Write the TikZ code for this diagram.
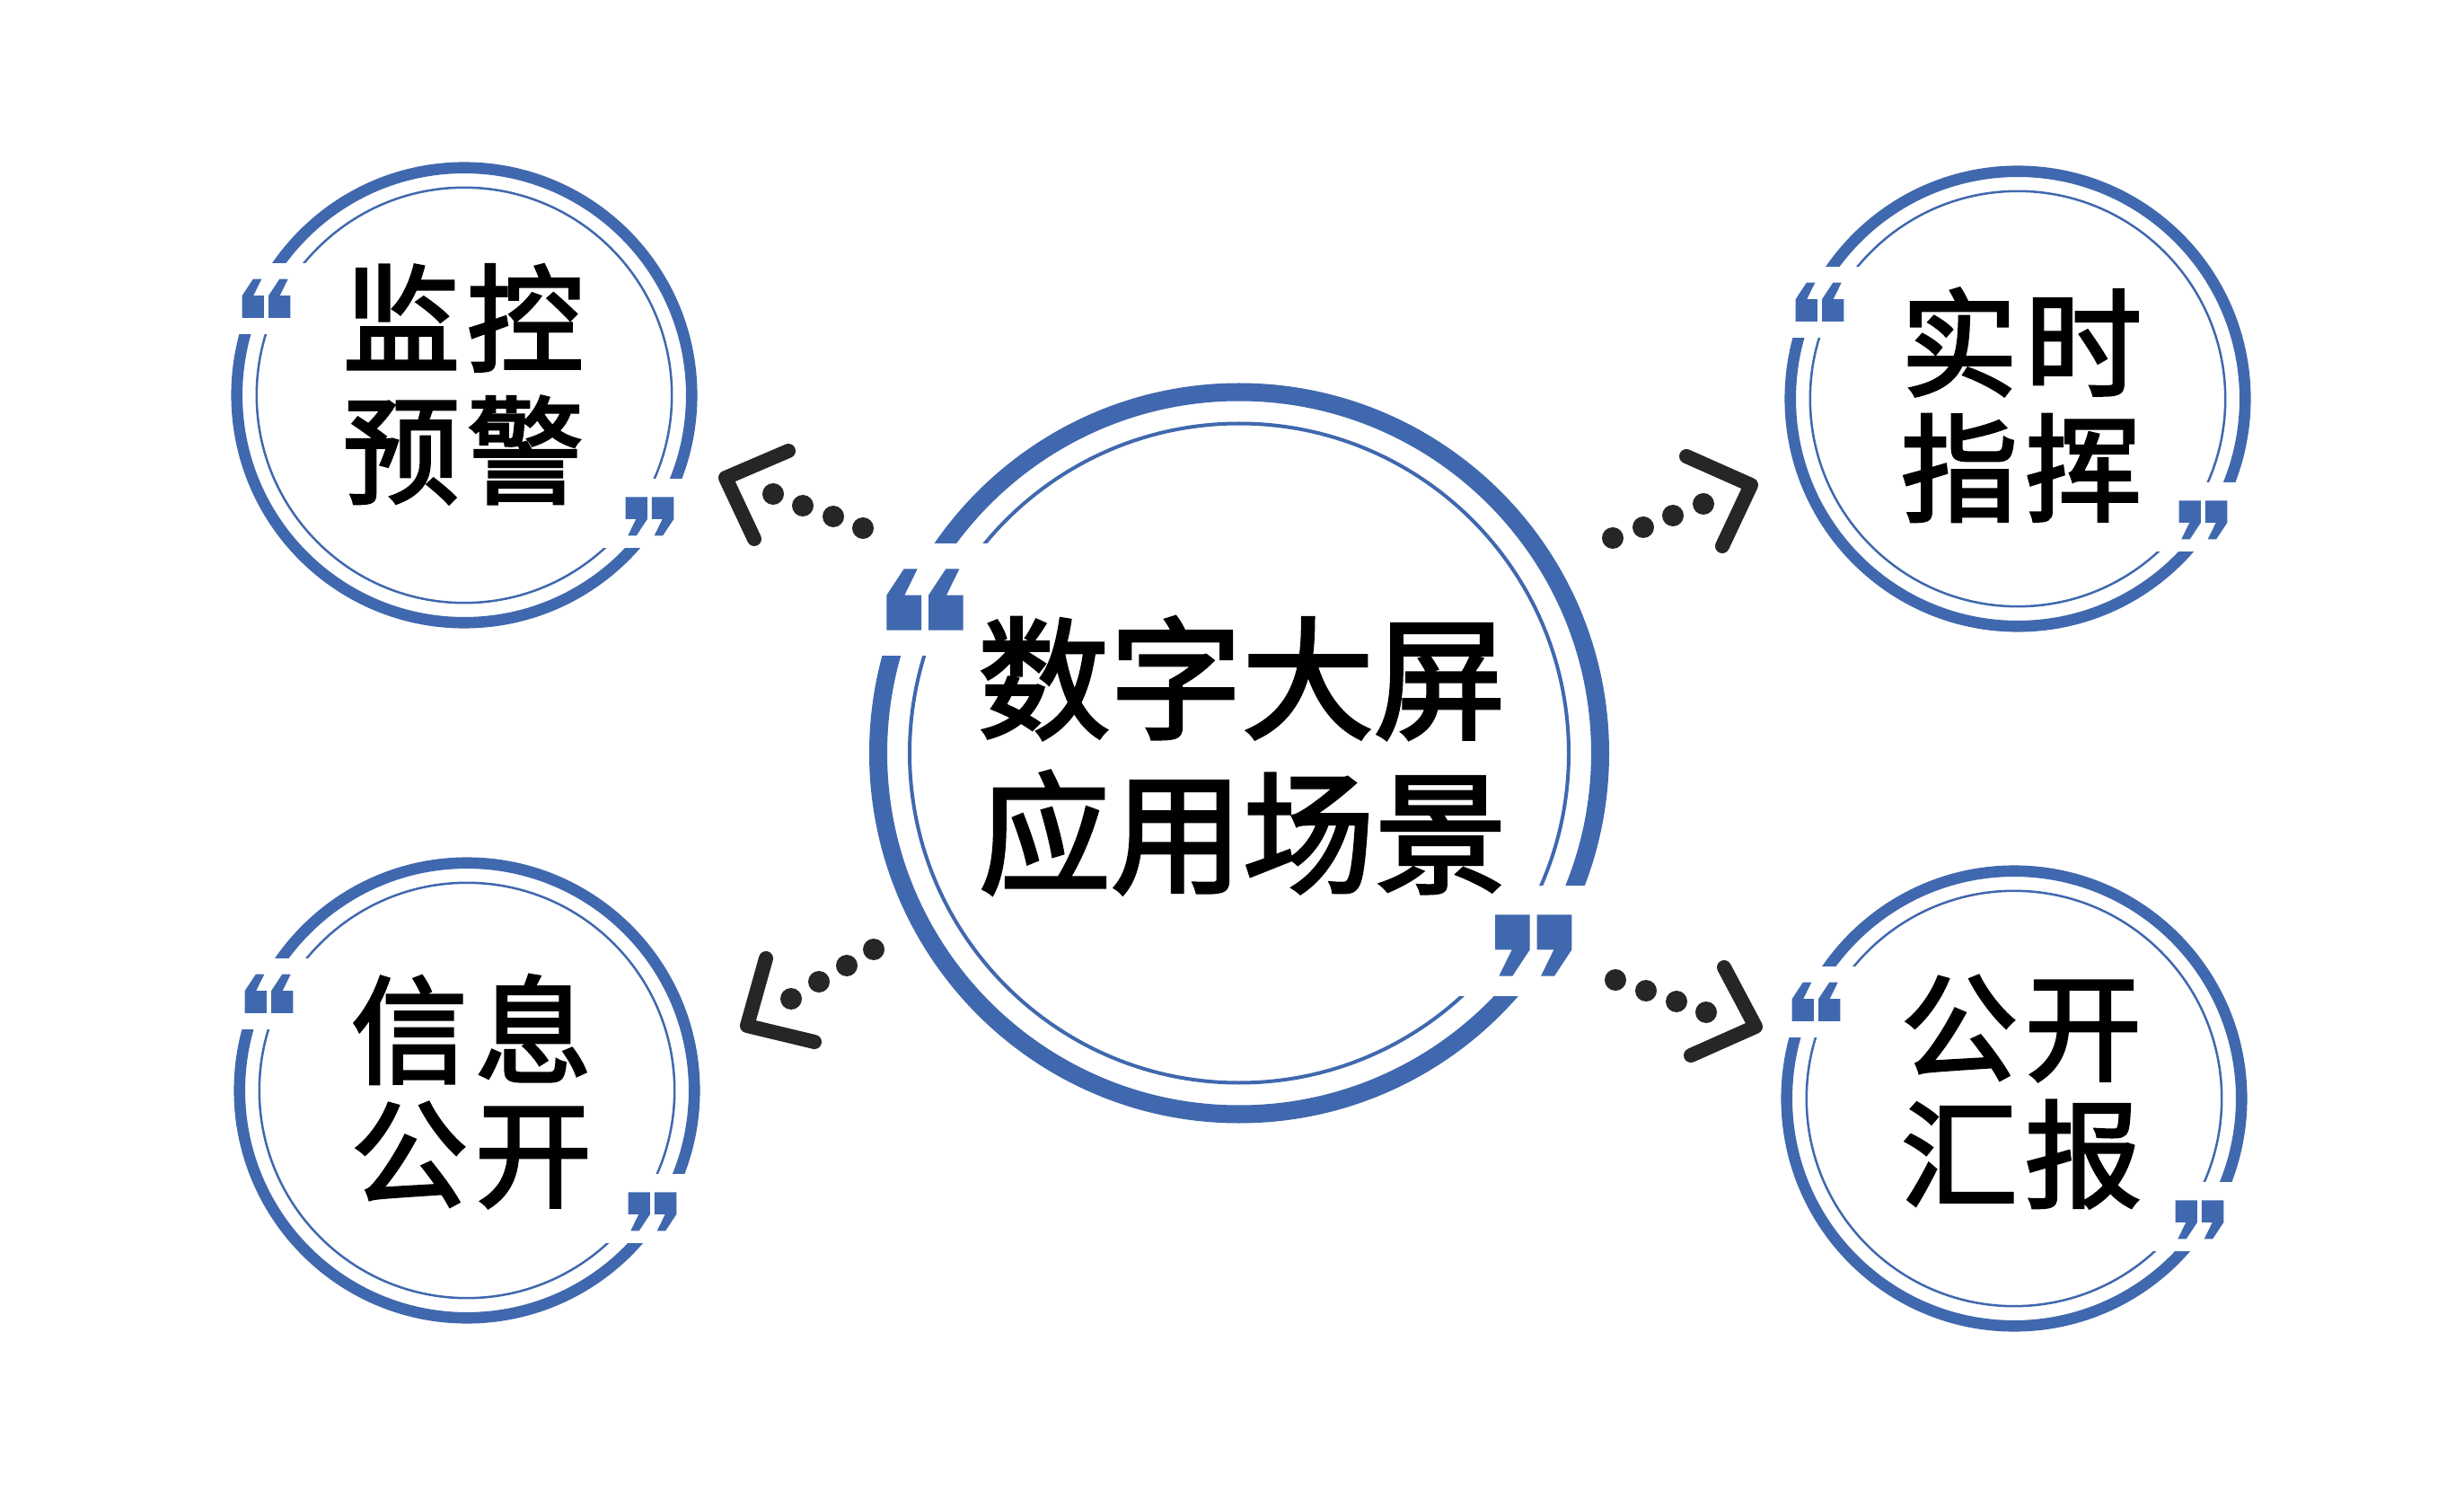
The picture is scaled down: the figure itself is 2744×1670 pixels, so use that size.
\documentclass[tikz,border=0pt]{standalone}
\usepackage{fontspec}
\newfontfamily\cjk{Noto Sans CJK SC}[FakeBold=2.5]
\definecolor{ringblue}{HTML}{4068AE}
\definecolor{arrowgray}{HTML}{262626}
\tikzset{
  qmark/.pic={
    \fill[ringblue] (0,0)--(0,-39)--(19.4,-68.4)--(34.4,-68.4)--(20,-39)--(38.7,-39)--(38.7,0)--cycle;
    \fill[ringblue] (46.7,0)--(46.7,-39)--(66.1,-68.4)--(81.1,-68.4)--(66.7,-39)--(85.4,-39)--(85.4,0)--cycle;
  },
  ctext/.style={font=\cjk\fontsize{41.8pt}{50pt}\selectfont, inner sep=0pt, text=black},
  stext/.style={font=\cjk\fontsize{37pt}{44pt}\selectfont, inner sep=0pt, text=black},
  chev/.style={draw=arrowgray, line width=0.16cm, line cap=round, line join=round},
  dotmark/.style={fill=arrowgray},
}
\newcommand\ringdeco[4]{%
  \begin{scope}[shift={(#2,#3)}, scale=#4]
    \coordinate (#1) at (0,0);
    \draw[ringblue, line width=#4*0.2cm] (0,0) circle (402);
    \draw[ringblue, line width=#4*0.04cm] (0,0) circle (367);
    \fill[white] (-430,-233) rectangle (-268,-108);
    \fill[white] (238,147) rectangle (430,270);
    \pic[transform shape] at (-392.7,-136.8) {qmark};
    \pic[transform shape, rotate=180] at (370.4,179.8) {qmark};
  \end{scope}}
\begin{document}
\begin{tikzpicture}[x=0.01cm, y=-0.01cm]
  \useasboundingbox[fill=white] (0,0) rectangle (2744,1670);
  % rings
  \ringdeco{cc}{1380}{838.5}{1}
  \ringdeco{tl}{517}{440}{0.63}
  \ringdeco{tr}{2247}{444}{0.63}
  \ringdeco{bl}{520}{1214}{0.63}
  \ringdeco{br}{2243}{1223}{0.63}
  % texts
  \node[ctext] (c1) at (1383,755) {数字大屏};
  \node[ctext] (c2) at (1384,927) {应用场景};
  \node[stext] (tl1) at (516,354) {监\hspace{0.08cm}控};
  \node[stext] (tl2) at (516,501) {预\hspace{0.08cm}警};
  \node[stext] (tr1) at (2251,381) {实\hspace{0.08cm}时};
  \node[stext] (tr2) at (2251,521) {指\hspace{0.08cm}挥};
  \node[stext] (bl1) at (525,1146) {信\hspace{0.08cm}息};
  \node[stext] (bl2) at (525,1286) {公\hspace{0.08cm}开};
  \node[stext] (br1) at (2251,1145) {公\hspace{0.08cm}开};
  \node[stext] (br2) at (2251,1285) {汇\hspace{0.08cm}报};
  % arrow TL
  \coordinate (atlv) at (808,532);
  \coordinate (atla) at (878,502);
  \coordinate (atlb) at (840,600);
  \draw[chev] (atla) -- (atlv) -- (atlb);
  \foreach \p in {(861,550),(894,563),(928,575),(961,588)} \fill[dotmark] \p circle (12);
  % arrow TR
  \coordinate (atrv) at (1950,540);
  \coordinate (atra) at (1878,508);
  \coordinate (atrb) at (1918,608);
  \draw[chev] (atra) -- (atrv) -- (atrb);
  \foreach \p in {(1796,599),(1830,587),(1863,574),(1897,561)} \fill[dotmark] \p circle (12);
  % arrow BL
  \coordinate (ablv) at (832,1142);
  \coordinate (abla) at (853,1067);
  \coordinate (ablb) at (907,1160);
  \draw[chev] (abla) -- (ablv) -- (ablb);
  \foreach \p in {(881,1112),(912,1093),(943,1075),(973,1057)} \fill[dotmark] \p circle (12);
  % arrow BR
  \coordinate (abrv) at (1955,1143);
  \coordinate (abra) at (1920,1077);
  \coordinate (abrb) at (1883,1175);
  \draw[chev] (abra) -- (abrv) -- (abrb);
  \foreach \p in {(1799,1091),(1833,1103),(1867,1115),(1900,1127)} \fill[dotmark] \p circle (12);
\end{tikzpicture}
\end{document}
